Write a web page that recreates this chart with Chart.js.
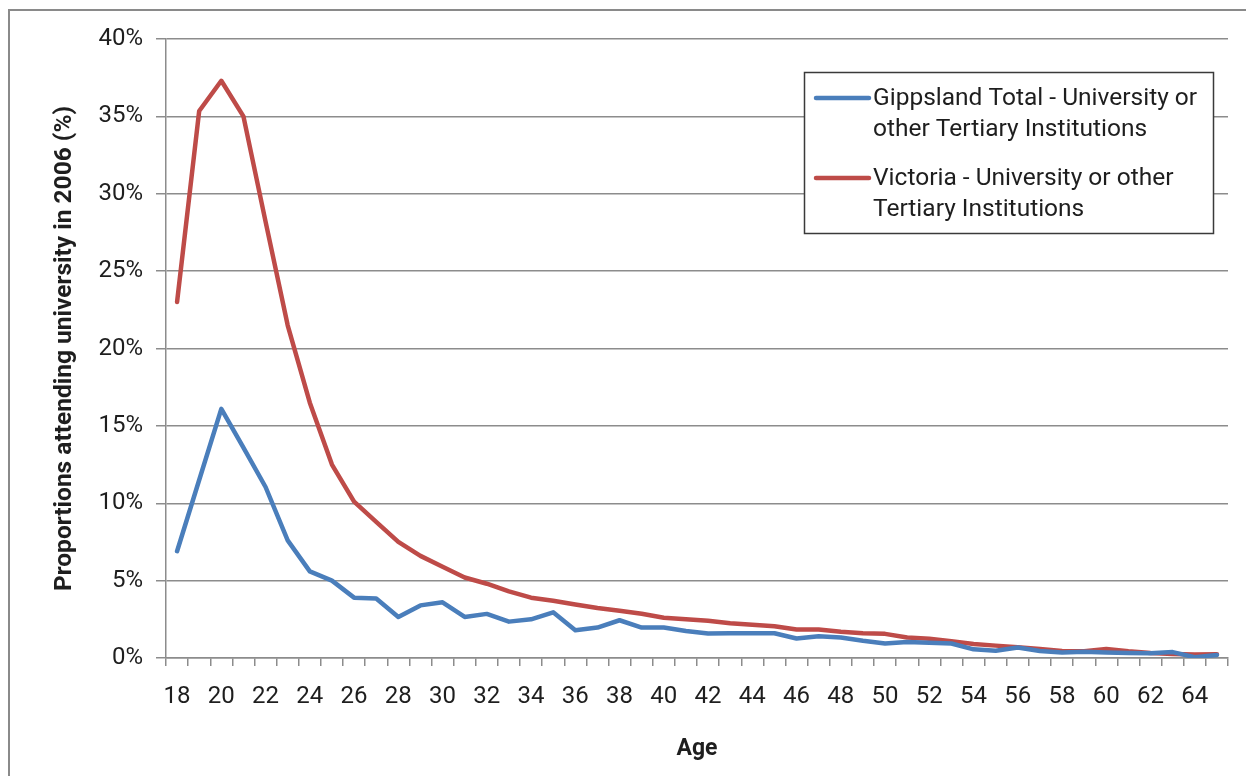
<!DOCTYPE html>
<html>
<head>
<meta charset="utf-8">
<script src="https://cdn.jsdelivr.net/npm/chart.js@4.4.0/dist/chart.umd.min.js"></script>
<style>
html, body { margin: 0; padding: 0; background: #fff; }
#wrap { position: relative; width: 1246px; height: 776px; overflow: hidden; }
#frame { position: absolute; left: 8px; top: 9px; width: 1300px; height: 900px; border-left: 2px solid #8a8a8a; border-top: 2px solid #8a8a8a; }
canvas { position: absolute; left: 0; top: 0; }
</style>
</head>
<body>
<div id="wrap">
  <div id="frame"></div>
  <canvas id="chart" width="1246" height="776"></canvas>
</div>
<script>
// ages 18..65
const ages = [18, 19, 20, 21, 22, 23, 24, 25, 26, 27, 28, 29, 30, 31, 32, 33, 34, 35, 36, 37, 38, 39, 40, 41,
              42, 43, 44, 45, 46, 47, 48, 49, 50, 51, 52, 53, 54, 55, 56, 57, 58, 59, 60, 61, 62, 63, 64, 65];

// % attending university
const gippsland = [6.9, 11.5, 16.1, 13.6, 11.05, 7.6, 5.6, 5.0, 3.9, 3.85, 2.65, 3.4, 3.6, 2.65, 2.85, 2.35, 2.5, 2.95,
                   1.8, 1.97, 2.44, 1.97, 1.97, 1.75, 1.58, 1.6, 1.6, 1.6, 1.26, 1.41, 1.32, 1.11, 0.94, 1.03,
                   0.98, 0.94, 0.56, 0.47, 0.68, 0.45, 0.35, 0.4, 0.36, 0.33, 0.3, 0.38, 0.05, 0.2];
const victoria = [23.0, 35.35, 37.3, 35.0, 28.2, 21.5, 16.5, 12.5, 10.1, 8.8, 7.5, 6.6, 5.9, 5.2, 4.8, 4.3, 3.9, 3.7,
                  3.46, 3.23, 3.05, 2.86, 2.6, 2.5, 2.4, 2.25, 2.15, 2.05, 1.84, 1.84, 1.69, 1.6, 1.56, 1.32,
                  1.24, 1.09, 0.9, 0.8, 0.7, 0.58, 0.45, 0.43, 0.58, 0.43, 0.32, 0.26, 0.22, 0.24];

const legend_lines = [
    ['Gippsland Total - University or', 'other Tertiary Institutions'],
    ['Victoria - University or other', 'Tertiary Institutions']
];
const y_ticks = [0, 5, 10, 15, 20, 25, 30, 35, 40];

const axis_grey = '#8c8c8c';
const text_col = '#1e1e1e';
const font_name = 'Roboto';

// legend box drawn by hand (two-line labels)
const boxLegend = {
    id: 'boxLegend',
    afterDraw(chart) {
        const ctx = chart.ctx;
        ctx.save();
        ctx.fillStyle = '#fff';
        ctx.fillRect(804, 72, 409, 161);
        ctx.strokeStyle = '#3a3a3a';
        ctx.lineWidth = 1.5;
        ctx.strokeRect(804.5, 72.5, 409, 161);
        chart.data.datasets.forEach((ds, i) => {
            const y = 98 + i * 80;
            ctx.strokeStyle = ds.borderColor;
            ctx.lineWidth = 4.5;
            ctx.lineCap = 'round';
            ctx.beginPath();
            ctx.moveTo(816, y);
            ctx.lineTo(869, y);
            ctx.stroke();
            ctx.fillStyle = text_col;
            ctx.font = '24.5px ' + font_name;
            ctx.textBaseline = 'middle';
            legend_lines[i].forEach((t, j) => ctx.fillText(t, 873, y + 1 + j * 31));
        });
        ctx.restore();
    }
};

const ctx = document.getElementById('chart').getContext('2d');

const chart = new Chart(ctx, {
    type: 'line',
    data: {
        labels: ages,
        datasets: [{
            label: legend_lines[0].join(' '),
            data: gippsland,
            borderColor: '#4A7EBB',
            borderWidth: 4.5,
            pointRadius: 0,
            tension: 0,
            borderJoinStyle: 'round',
            borderCapStyle: 'round'
        }, {
            label: legend_lines[1].join(' '),
            data: victoria,
            borderColor: '#BE4B48',
            borderWidth: 4.5,
            pointRadius: 0,
            tension: 0,
            borderJoinStyle: 'round',
            borderCapStyle: 'round'
        }]
    },
    options: {
        responsive: false,
        animation: false,
        layout: { padding: { left: 46, right: 18, top: 39, bottom: 9 } },
        plugins: {
            legend: { display: false },
            tooltip: { enabled: false }
        },
        scales: {
            x: {
                offset: true,
                grid: { offset: true, drawOnChartArea: false, tickLength: 8, color: axis_grey, lineWidth: 1.5 },
                border: { color: axis_grey, width: 1.5 },
                ticks: {
                    autoSkip: false,
                    maxRotation: 0,
                    padding: 17,
                    color: text_col,
                    font: { family: font_name, size: 24 },
                    callback: (v, i) => (i % 2 === 0 ? ages[i] : '')
                },
                title: {
                    display: true,
                    text: 'Age',
                    color: text_col,
                    font: { family: font_name, size: 23, weight: 'bold' }
                },
                afterFit: (s) => { s.height = 109; }
            },
            y: {
                min: y_ticks[0],
                max: y_ticks[y_ticks.length - 1],
                grid: { color: axis_grey, lineWidth: 1.5, tickLength: 10 },
                border: { color: axis_grey, width: 1.5 },
                ticks: {
                    stepSize: 5,
                    padding: 13,
                    color: text_col,
                    font: { family: font_name, size: 24 },
                    callback: (v) => v + '%'
                },
                title: {
                    display: true,
                    text: 'Proportions attending university in 2006 (%)',
                    color: text_col,
                    font: { family: font_name, size: 24.5, weight: 'bold' }
                },
                afterFit: (s) => { s.width = 120; }
            }
        }
    },
    plugins: [boxLegend]
});
</script>
</body>
</html>
